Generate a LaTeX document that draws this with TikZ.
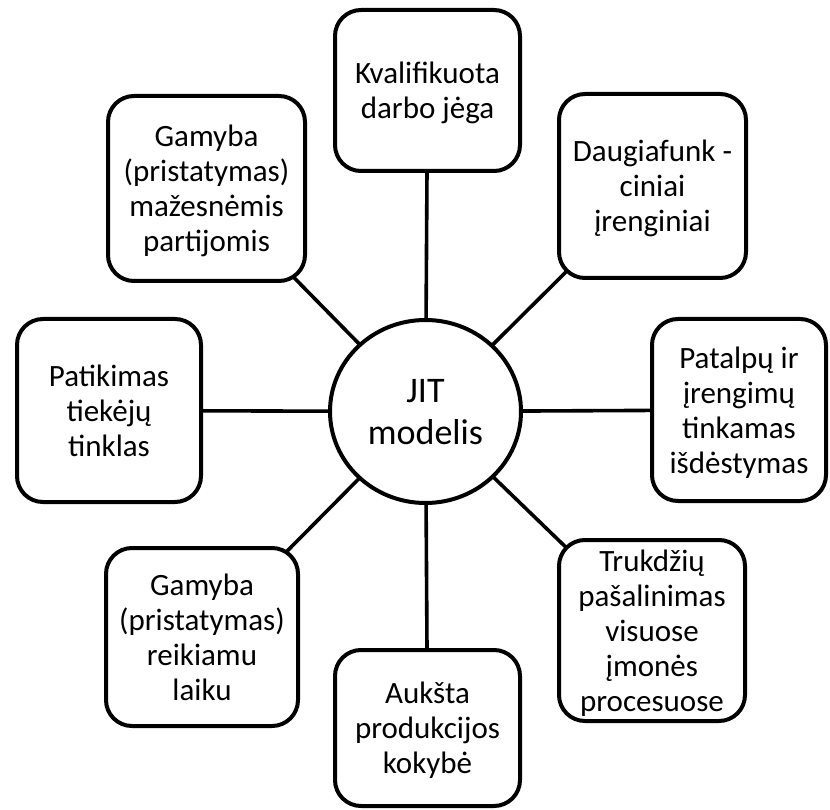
\documentclass[tikz,border=0pt]{standalone}
\usepackage{fontspec}
\setmainfont{Carlito}
\usetikzlibrary{backgrounds,shapes.geometric}
\begin{document}
\begin{tikzpicture}[x=1pt,y=-1pt,
  box/.style={draw, line width=4pt, rounded corners=26pt, fill=white, align=center, inner sep=0pt, text depth=0pt, font=\fontsize{31}{35}\selectfont},
  hub/.style={draw, ellipse, line width=4pt, fill=white, align=center, inner sep=0pt, text depth=0pt, minimum width=191pt, minimum height=183pt, font=\fontsize{36}{42}\selectfont},
  link/.style={line width=3.6pt}]
\useasboundingbox (0,0) rectangle (830,810);
\node[hub] (c) at (425.5,411.5) {JIT\\modelis};
\node[box, minimum width=185pt, minimum height=161pt] (b1) at (427.5,90.5) {Kvalifikuota\\darbo jėga};
\node[box, minimum width=187pt, minimum height=184pt] (b2) at (652.5,186) {Daugiafunk -\\ciniai\\įrenginiai};
\node[box, minimum width=174pt, minimum height=182pt] (b3) at (739,410) {Patalpų ir\\įrengimų\\tinkamas\\išdėstymas};
\node[box, minimum width=186pt, minimum height=181pt] (b4) at (652,630.5) {Trukdžių\\pašalinimas\\visuose\\įmonės\\procesuose};
\node[box, minimum width=185pt, minimum height=156pt] (b5) at (427.5,728) {Aukšta\\produkcijos\\kokybė};
\node[box, minimum width=192pt, minimum height=178pt] (b6) at (202,637) {Gamyba\\(pristatymas)\\reikiamu\\laiku};
\node[box, minimum width=184pt, minimum height=183pt] (b7) at (109,410.5) {Patikimas\\tiekėjų\\tinklas};
\node[box, minimum width=197pt, minimum height=185pt] (b8) at (206.5,188.5) {Gamyba\\(pristatymas)\\mažesnėmis\\partijomis};
\begin{scope}[on background layer]
\foreach \b in {b1,b2,b3,b4,b5,b6,b7,b8}
  \draw[link] (c.center) -- (\b.center);
\end{scope}
\end{tikzpicture}
\end{document}
